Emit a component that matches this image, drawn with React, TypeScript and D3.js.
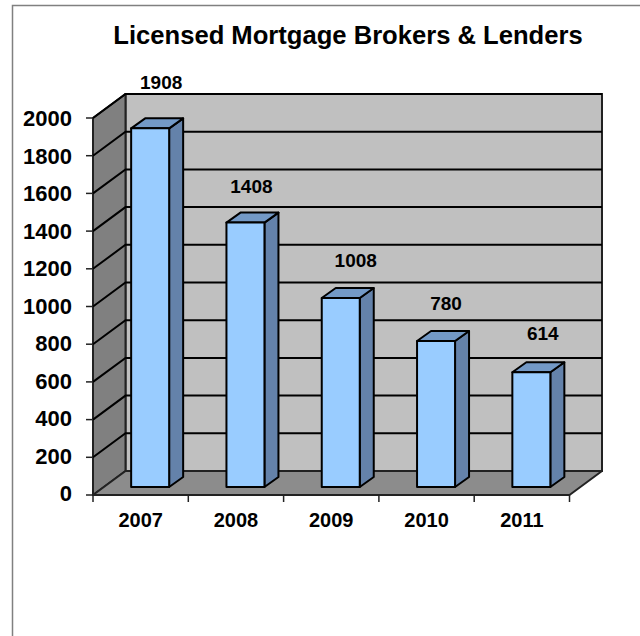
import React from "react";
import * as d3 from "d3";

const title = "Licensed Mortgage Brokers & Lenders";
const years = ["2007", "2008", "2009", "2010", "2011"];
const brokers = [1908, 1408, 1008, 780, 614];
const yTicks = [0, 200, 400, 600, 800, 1000, 1200, 1400, 1600, 1800, 2000];

// Hand-placed data label nudges seen in the source (relative to bar top)
const labelDx = [11, 6, 15, 10, 11.5];
const labelDy = [-29.5, -19.5, -20.5, -20.5, -22];

const W = 640, H = 636;
const left = 93, right = 569.5, bottom = 495, top = 118;
const depthX = 32.5, depthY = -24;
const barOffX = 9.5, barOffY = -7, barDepthX = 14, barDepthY = -10;
const barW = 38;

const x = d3.scaleBand<string>().domain(years).range([left, right]);
const y = d3.scaleLinear().domain([0, 2000]).range([bottom, top]);
const yLabel = d3.scaleLinear().domain([0, 2000]).range([bottom - 1.5, top + 0.5]);

const poly = (pts: [number, number][]) => pts.map((p) => p.join(",")).join(" ");
const font = "'Liberation Sans', Arial, sans-serif";
const edge = "#000";

export default function App() {
  const y0 = y(0);
  const y2k = y(2000);
  return (
    <svg width={W} height={H} viewBox={`0 0 ${W} ${H}`} style={{ position: "absolute", left: 0, top: 0, background: "#fff" }}>
      {/* outer frame */}
      <path d={`M12.5 636 V5.5 H640`} fill="none" stroke="#808080" strokeWidth={1.5} />
      <text x={348} y={44} textAnchor="middle" fontFamily={font} fontWeight="bold" fontSize={25.6} fill="#000">{title}</text>

      {/* back wall */}
      <rect x={left + depthX} y={y2k + depthY} width={right - left} height={y0 - y2k} fill="#c0c0c0" stroke="#222" strokeWidth={2} />
      {/* left wall */}
      <polygon points={poly([[left, y0], [left + depthX, y0 + depthY], [left + depthX, y2k + depthY], [left, y2k]])} fill="#808080" stroke="#222" strokeWidth={2} strokeLinejoin="round" />
      {/* floor */}
      <polygon points={poly([[left, y0], [right, y0], [right + depthX, y0 + depthY], [left + depthX, y0 + depthY]])} fill="#8c8c8c" stroke="#222" strokeWidth={2} strokeLinejoin="round" />

      {/* gridlines */}
      {yTicks.slice(1).map((t) => (
        <g key={t} stroke="#000" strokeWidth={2} fill="none">
          <polyline points={poly([[left, y(t)], [left + depthX, y(t) + depthY], [right + depthX, y(t) + depthY]])} />
        </g>
      ))}

      {/* axes */}
      {yTicks.map((t) => (
        <g key={t}>
          <line x1={left - 7} x2={left} y1={y(t)} y2={y(t)} stroke="#222" strokeWidth={1.5} />
          <text x={72} y={yLabel(t) + 7.5} textAnchor="end" fontFamily={font} fontWeight="bold" fontSize={22} fill="#000">{t}</text>
        </g>
      ))}
      {[...years.map((c) => x(c) as number), right].map((p, i) => (
        <line key={i} x1={p} x2={p} y1={y0} y2={y0 + 7} stroke="#222" strokeWidth={1.5} />
      ))}
      {years.map((c) => (
        <text key={c} x={(x(c) as number) + x.bandwidth() / 2} y={526.5} textAnchor="middle" fontFamily={font} fontWeight="bold" fontSize={20} fill="#000">{c}</text>
      ))}

      {/* bars */}
      {years.map((c, i) => {
        const x0 = (x(c) as number) + (x.bandwidth() - barW) / 2 + barOffX;
        const x1 = x0 + barW;
        const b = y0 - 8;
        const t = y(brokers[i]) + barOffY;
        return (
          <g key={c} stroke={edge} strokeWidth={2} strokeLinejoin="round">
            <polygon points={poly([[x1, t], [x1 + barDepthX, t + barDepthY], [x1 + barDepthX, b + barDepthY], [x1, b]])} fill="#6482aa" />
            <polygon points={poly([[x0, t], [x1, t], [x1 + barDepthX, t + barDepthY], [x0 + barDepthX, t + barDepthY]])} fill="#7399c6" />
            <rect x={x0} y={t} width={barW} height={b - t} fill="#99ccff" />
            <text x={(x0 + x1) / 2 + labelDx[i]} y={t + barDepthY + labelDy[i]} textAnchor="middle" stroke="none" fontFamily={font} fontWeight="bold" fontSize={19} fill="#000">{brokers[i]}</text>
          </g>
        );
      })}
    </svg>
  );
}
